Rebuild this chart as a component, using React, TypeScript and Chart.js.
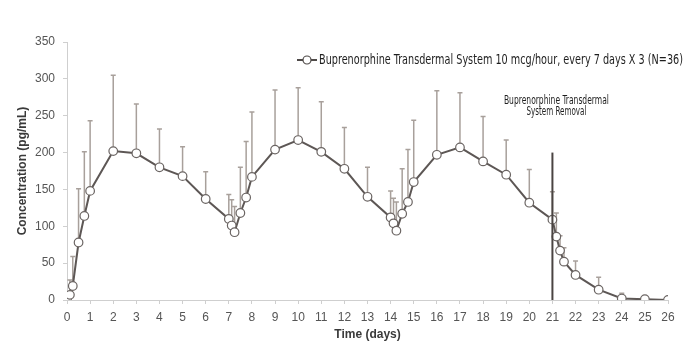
import React, { useEffect, useRef } from "react";
import { Chart, registerables } from "chart.js";

Chart.register(...registerables);

const days = [0, 0.125, 0.25, 0.5, 0.75, 1, 2, 3, 4, 5, 6, 7, 7.125, 7.25, 7.5, 7.75, 8, 9, 10, 11, 12, 13, 14, 14.125, 14.25, 14.5, 14.75, 15, 16, 17, 18, 19, 20, 21, 21.17, 21.33, 21.5, 22, 23, 24, 25, 26];
const concentration = [1, 7, 19, 78, 114, 148, 202, 199, 180, 168, 137, 110, 101, 92, 118, 139, 167, 204, 217, 201, 178, 140, 112, 104, 94, 117, 133, 160, 197, 207, 188, 170, 132, 109, 86, 67, 52, 34, 14, 2, 1, 0];
const upperError = [null, 27, 59, 151, 201, 243, 305, 266, 232, 208, 174, 143, 136, 127, 180, 215, 255, 285, 288, 269, 234, 180, 148, 138, 133, 178, 204, 244, 284, 281, 249, 217, 177, 147, 118, 87, 71, 53, 31, 9, 4, null];
const removalDay = 21;
const removalTop = 200;
const legendLabel = "Buprenorphine Transdermal System 10 mcg/hour, every 7 days X 3 (N=36)";
const annotationLines = ["Buprenorphine Transdermal", "System Removal"];
const yTicks = [0, 50, 100, 150, 200, 250, 300, 350];
const xTicks = Array.from({ length: 27 }, (_, i) => i);

const NARROW = "'Liberation Sans Narrow', 'DejaVu Sans Condensed', 'Arial Narrow', sans-serif";

function fitText(ctx: CanvasRenderingContext2D, text: string, x: number, y: number, maxW: number) {
  const w = ctx.measureText(text).width;
  const s = w > maxW ? maxW / w : 1;
  ctx.save();
  ctx.translate(x, y);
  ctx.scale(s, 1);
  ctx.fillText(text, 0, 0);
  ctx.restore();
}

const errorBarPlugin = {
  id: "errorBars",
  beforeDatasetsDraw(chart: any) {
    const { ctx, scales } = chart;
    const xs = scales.x, ys = scales.y;
    ctx.save();
    ctx.strokeStyle = "#a8a09b";
    ctx.lineWidth = 1.5;
    days.forEach((d, i) => {
      const up = upperError[i];
      if (up == null) return;
      const px = xs.getPixelForValue(d);
      const y0 = ys.getPixelForValue(concentration[i]);
      const y1 = ys.getPixelForValue(up);
      ctx.beginPath();
      ctx.moveTo(px, y0);
      ctx.lineTo(px, y1);
      ctx.moveTo(px - 2.5, y1);
      ctx.lineTo(px + 2.5, y1);
      ctx.stroke();
    });
    ctx.restore();
  },
};

const textPlugin = {
  id: "textOverlay",
  afterDraw(chart: any) {
    const { ctx, scales } = chart;
    ctx.save();
    const ly = 60;
    const lx = 297;
    ctx.strokeStyle = "#4f4a48";
    ctx.lineWidth = 2;
    ctx.beginPath();
    ctx.moveTo(lx, ly);
    ctx.lineTo(lx + 20, ly);
    ctx.stroke();
    ctx.beginPath();
    ctx.arc(lx + 10, ly, 4, 0, Math.PI * 2);
    ctx.fillStyle = "#fff";
    ctx.fill();
    ctx.lineWidth = 1.2;
    ctx.strokeStyle = "#4f4a48";
    ctx.stroke();
    ctx.fillStyle = "#1e1e1e";
    ctx.font = `13.5px ${NARROW}`;
    ctx.textBaseline = "middle";
    ctx.textAlign = "left";
    fitText(ctx, legendLabel, lx + 22, ly, 364);
    const ax = scales.x.getPixelForValue(removalDay) + 4;
    ctx.font = `11.5px ${NARROW}`;
    ctx.textAlign = "center";
    fitText(ctx, annotationLines[0], ax, 101, 105);
    fitText(ctx, annotationLines[1], ax, 112, 60);
    ctx.restore();
  },
};

export default function App() {
  const ref = useRef<HTMLCanvasElement>(null);
  useEffect(() => {
    document.body.style.margin = "0";
    const chart = new Chart(ref.current!, {
      type: "line",
      data: {
        datasets: [
          {
            label: "Removal",
            data: [
              { x: removalDay, y: 0 },
              { x: removalDay, y: removalTop },
            ],
            borderColor: "#4a4442",
            borderWidth: 2,
            pointRadius: 0,
          },
          {
            label: legendLabel,
            data: days.map((d, i) => ({ x: d, y: concentration[i] })),
            borderColor: "#5d5755",
            borderWidth: 2,
            pointRadius: 4.3,
            pointBackgroundColor: "#fff",
            pointBorderColor: "#6b6563",
            pointBorderWidth: 1.2,
            tension: 0,
          },
        ],
      },
      options: {
        animation: false,
        responsive: false,
        layout: { padding: { top: 42, right: 17, left: 0, bottom: 0 } },
        plugins: { legend: { display: false }, tooltip: { enabled: false } },
        scales: {
          x: {
            type: "linear",
            min: 0,
            max: 26,
            afterBuildTicks: (s: any) => { s.ticks = xTicks.map((v) => ({ value: v })); },
            afterFit: (s: any) => { s.height = 56; },
            grid: { drawOnChartArea: false, color: "#cfcfcf", tickLength: 4 },
            border: { display: true, color: "#cfcfcf" },
            ticks: { color: "#555", font: { family: "Arial, 'Liberation Sans'", size: 12 }, padding: 6, maxRotation: 0, autoSkip: false },
            title: { display: true, text: "Time (days)", color: "#3a3a3a", font: { family: "Arial, 'Liberation Sans'", size: 12, weight: "bold" }, padding: { top: 0, bottom: 14 } },
          },
          y: {
            min: 0,
            max: 350,
            afterBuildTicks: (s: any) => { s.ticks = yTicks.map((v) => ({ value: v })); },
            afterFit: (s: any) => { s.width = 67; },
            grid: { drawOnChartArea: false, color: "#cfcfcf", tickLength: 4 },
            border: { display: true, color: "#cfcfcf" },
            ticks: { color: "#555", font: { family: "Arial, 'Liberation Sans'", size: 12 }, padding: 8 },
            title: { display: true, text: "Concentration (pg/mL)", color: "#3a3a3a", font: { family: "Arial, 'Liberation Sans'", size: 12, weight: "bold" }, padding: { top: 15, bottom: 0 } },
          },
        },
      },
      plugins: [errorBarPlugin, textPlugin],
    } as any);
    return () => chart.destroy();
  }, []);
  return (
    <div style={{ width: 685, height: 356 }}>
      <canvas ref={ref} width={685} height={356} />
    </div>
  );
}
